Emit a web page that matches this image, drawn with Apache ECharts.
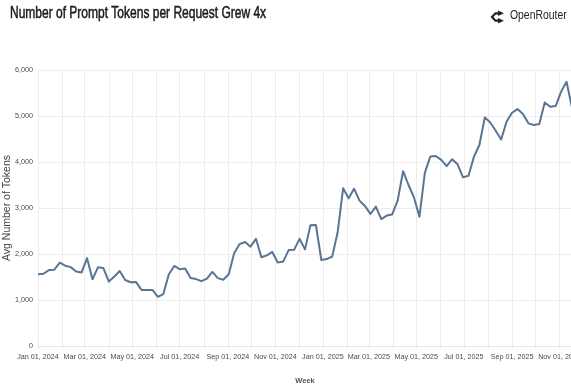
<!DOCTYPE html>
<html>
<head>
<meta charset="utf-8">
<script src="https://cdn.jsdelivr.net/npm/echarts@6/dist/echarts.min.js"></script>
<style>
  html, body { margin: 0; padding: 0; background: #ffffff; }
  #chart { width: 571px; height: 387px; }
</style>
</head>
<body>
<div id="chart"></div>
<script>
// Average prompt tokens per request, one value per week starting Monday, Jan 01 2024
const firstWeek = [2024, 0, 1];
const avgTokens = [
  1560, 1570, 1650, 1660, 1810, 1745, 1715, 1620, 1600, 1910,
  1450, 1710, 1695, 1400, 1510, 1630, 1435, 1385, 1390, 1220,
  1220, 1220, 1070, 1130, 1555, 1740, 1670, 1685, 1480, 1455,
  1410, 1465, 1610, 1475, 1440, 1560, 2015, 2215, 2260, 2160,
  2330, 1930, 1970, 2045, 1815, 1835, 2085, 2090, 2330, 2100,
  2625, 2630, 1870, 1890, 1945, 2480, 3430, 3210, 3420, 3160,
  3045, 2870, 3030, 2760, 2835, 2860, 3160, 3800, 3500, 3230,
  2810, 3770, 4120, 4130, 4045, 3910, 4060, 3950, 3665, 3700,
  4115, 4370, 4970, 4860, 4680, 4490, 4880, 5070, 5150, 5045,
  4840, 4805, 4825, 5295, 5200, 5215, 5530, 5745, 5180
];
const yTicks = [0, 1000, 2000, 3000, 4000, 5000, 6000];
const monthNames = ['Jan', 'Feb', 'Mar', 'Apr', 'May', 'Jun', 'Jul', 'Aug', 'Sep', 'Oct', 'Nov', 'Dec'];
const titleText = 'Number of Prompt Tokens per Request Grew 4x';
const brandText = 'OpenRouter';
const yAxisTitle = 'Avg Number of Tokens';
const xAxisTitle = 'Week';

const DAY = 86400000;
const weekDate = (i) => new Date(firstWeek[0], firstWeek[1], firstWeek[2] + 7 * i).getTime();
const seriesData = avgTokens.map((v, i) => [weekDate(i), v]);
const xMin = weekDate(0);
const xMax = weekDate(avgTokens.length - 1);

const sans = '"Liberation Sans", Arial, sans-serif';

// grid line every month, label every other month
const fmtDate = (val) => {
  const d = new Date(val);
  if (d.getMonth() % 2 !== 0) return '';
  return monthNames[d.getMonth()] + ' ' + String(d.getDate()).padStart(2, '0') + ', ' + d.getFullYear();
};

const chart = echarts.init(document.getElementById('chart'), null, { renderer: 'canvas' });
chart.setOption({
  animation: false,
  backgroundColor: '#ffffff',
  grid: { left: 38, right: -1, top: 70, bottom: 41, containLabel: false, outerBoundsMode: 'none' },
  xAxis: {
    type: 'time',
    min: xMin,
    max: xMax,
    minInterval: 28 * DAY,
    maxInterval: 31 * DAY,
    name: xAxisTitle,
    nameLocation: 'middle',
    nameGap: 31,
    nameMoveOverlap: false,
    nameTextStyle: { fontFamily: sans, fontSize: 7.5, fontWeight: 'bold', color: '#555' },
    axisLine: { show: true, lineStyle: { color: '#e6e6e6', width: 1 } },
    axisTick: { show: true, length: 3, lineStyle: { color: '#e6e6e6' } },
    splitLine: { show: true, lineStyle: { color: '#ededed', width: 1 } },
    axisLabel: {
      fontFamily: sans,
      fontSize: 7.2,
      fontWeight: 'normal',
      color: '#4a4a4a',
      margin: 8,
      hideOverlap: false,
      showMinLabel: true,
      formatter: fmtDate
    }
  },
  yAxis: {
    type: 'value',
    min: yTicks[0],
    max: yTicks[yTicks.length - 1],
    interval: 1000,
    name: yAxisTitle,
    nameLocation: 'middle',
    nameGap: 25,
    nameMoveOverlap: false,
    nameRotate: 90,
    nameTextStyle: { fontFamily: sans, fontSize: 10.5, color: '#444' },
    axisLine: { show: false },
    axisTick: { show: false },
    splitLine: { show: true, lineStyle: { color: '#ededed', width: 1 } },
    axisLabel: {
      fontFamily: sans,
      fontSize: 7.2,
      color: '#4a4a4a',
      margin: 5,
      formatter: (v) => v.toLocaleString('en-US')
    }
  },
  series: [{
    type: 'line',
    data: seriesData,
    showSymbol: false,
    symbol: 'none',
    clip: true,
    lineStyle: { color: '#5a7494', width: 2, join: 'round' }
  }],
  graphic: [
    {
      type: 'text',
      x: 10,
      y: 6,
      scaleX: 0.75,
      style: {
        text: titleText, fontFamily: sans, fontSize: 16, fontWeight: 'normal',
        fill: '#1a1a1a', stroke: '#1a1a1a', lineWidth: 0.5, verticalAlign: 'top'
      }
    },
    {
      type: 'group',
      children: [
        {
          type: 'polyline',
          shape: { points: [[499, 13.3], [495.5, 13.3], [492, 17], [495.5, 20.7], [499, 20.7]] },
          style: { stroke: '#222', lineWidth: 2.2, fill: null, lineJoin: 'miter' }
        },
        { type: 'polygon', shape: { points: [[498, 10.6], [504, 13.3], [498, 16]] }, style: { fill: '#222' } },
        { type: 'polygon', shape: { points: [[498, 18], [504, 20.7], [498, 23.4]] }, style: { fill: '#222' } }
      ]
    },
    {
      type: 'text',
      x: 510,
      y: 9,
      scaleX: 0.8,
      style: { text: brandText, fontFamily: sans, fontSize: 13, fill: '#222', verticalAlign: 'top' }
    }
  ]
});
</script>
</body>
</html>
